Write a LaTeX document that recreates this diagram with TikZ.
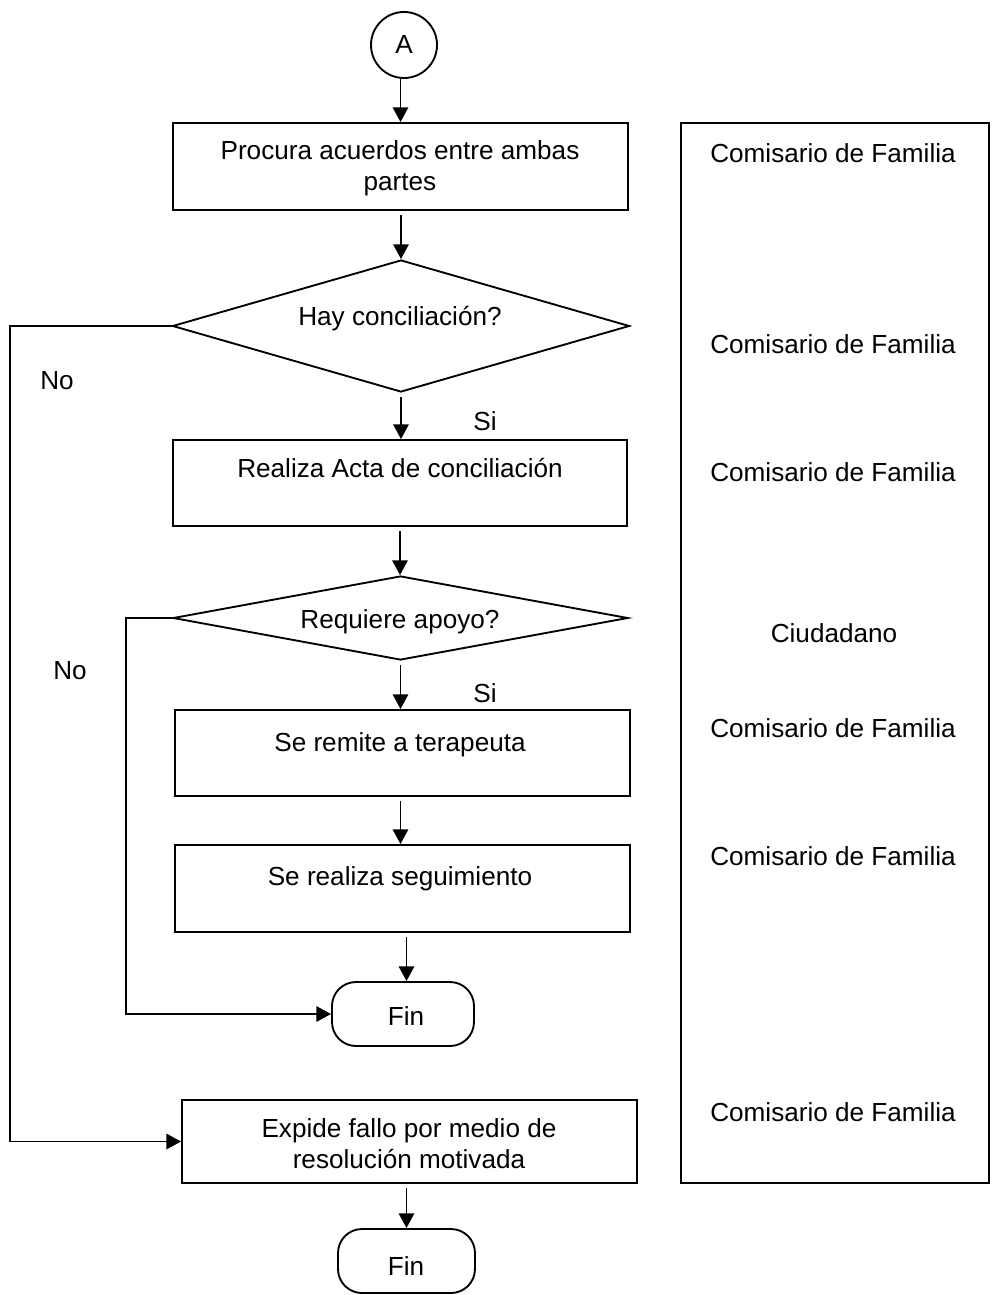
\documentclass[tikz,border=0pt]{standalone}
\usepackage{fontspec}
\setmainfont{Liberation Sans}
\usetikzlibrary{shapes.geometric,arrows.meta,calc}
\begin{document}
\begin{tikzpicture}[x=0.75pt,y=-0.75pt,
  every node/.style={font=\fontsize{19.6}{23.3}\selectfont},
  ln/.style={line width=1.4pt},
  arr/.style={ln,-{Triangle[width=11.5pt,length=11pt]}},
  arrs/.style={arr,shorten <=3pt},
  boxs/.style={draw,ln,rectangle,inner sep=0pt},
  dia/.style={draw,ln,diamond,inner sep=0pt},
  term/.style={draw,ln,rectangle,rounded corners=18pt,inner sep=0pt,minimum width=#1,minimum height=48pt},
  txt/.style={anchor=base,inner sep=0pt},
  txtc/.style={align=center,inner sep=0pt}
]
\useasboundingbox (0,0) rectangle (992,1295);

% connector circle
\node[draw,ln,circle,minimum size=49.5pt,inner sep=0pt] (A) at (404,45) {A};

% boxes
\node[boxs,minimum width=341.25pt,minimum height=65.25pt] (b1) at (400.5,166.5) {};
\node[txtc] (t1) at (400,168) {Procura acuerdos entre ambas\\partes};

\node[dia,minimum width=342.75pt,minimum height=99pt] (d1) at (401,326) {};
\node[txt] (td1) at (400,325) {Hay conciliación?};

\node[boxs,minimum width=340.5pt,minimum height=64.5pt] (b2) at (400,483) {};
\node[txt] (t2) at (400,477) {Realiza Acta de conciliación};

\node[dia,minimum width=341.25pt,minimum height=63pt] (d2) at (400.5,618) {};
\node[txt] (td2) at (400,628) {Requiere apoyo?};

\node[boxs,minimum width=341.25pt,minimum height=64.5pt] (b3) at (402.5,753) {};
\node[txt] (t3) at (400,751) {Se remite a terapeuta};

\node[boxs,minimum width=341.25pt,minimum height=65.25pt] (b4) at (402.5,888.5) {};
\node[txt] (t4) at (400,885) {Se realiza seguimiento};

\node[term=106.5pt] (f1) at (403,1014) {};
\node[txt] (tf1) at (406,1025) {Fin};

\node[boxs,minimum width=341.25pt,minimum height=62.25pt] (b5) at (409.5,1141.5) {};
\node[txtc] (t5) at (409,1144) {Expide fallo por medio de\\resolución motivada};

\node[term=102.75pt] (f2) at (406.5,1261) {};
\node[txt] (tf2) at (406,1275) {Fin};

% right column
\node[boxs,minimum width=231pt,minimum height=795pt] (R) at (835,653) {};
\node[txt] (r1) at (833,162) {Comisario de Familia};
\node[txt] (r2) at (833,353) {Comisario de Familia};
\node[txt] (r3) at (833,481) {Comisario de Familia};
\node[txt] (r4) at (834,642) {Ciudadano};
\node[txt] (r5) at (833,737) {Comisario de Familia};
\node[txt] (r6) at (833,865) {Comisario de Familia};
\node[txt] (r7) at (833,1121) {Comisario de Familia};

% labels
\node[txt] (no1) at (57,389) {No};
\node[txt] (no2) at (70,679) {No};
\node[txt] (si1) at (485,430) {Si};
\node[txt] (si2) at (485,702) {Si};

% helper coordinates
\coordinate (L1) at (10,0);
\coordinate (L2) at (126,0);

% connectors
\draw[arr] (b1.north |- A.south) -- (b1.north);
\draw[arrs] (b1.south -| d1.north) -- (d1.north);
\draw[arrs] (d1.south) -- (d1.south |- b2.north);
\draw[arrs] (b2.south) -- (b2.south |- d2.north);
\draw[arrs] (d2.south) -- (d2.south |- b3.north);
\draw[arrs] (b3.south -| d2.south) -- (d2.south |- b4.north);
\draw[arrs] ([xshift=3pt]b4.south) -- ([xshift=3pt]b4.south |- f1.north);
\draw[arrs] (b5.south -| f2.north) -- (f2.north);
\draw[arr] (d1.west) -- (d1.west -| L1) |- (b5.west);
\draw[arr] (d2.west) -- (d2.west -| L2) |- (f1.west);
\end{tikzpicture}
\end{document}
